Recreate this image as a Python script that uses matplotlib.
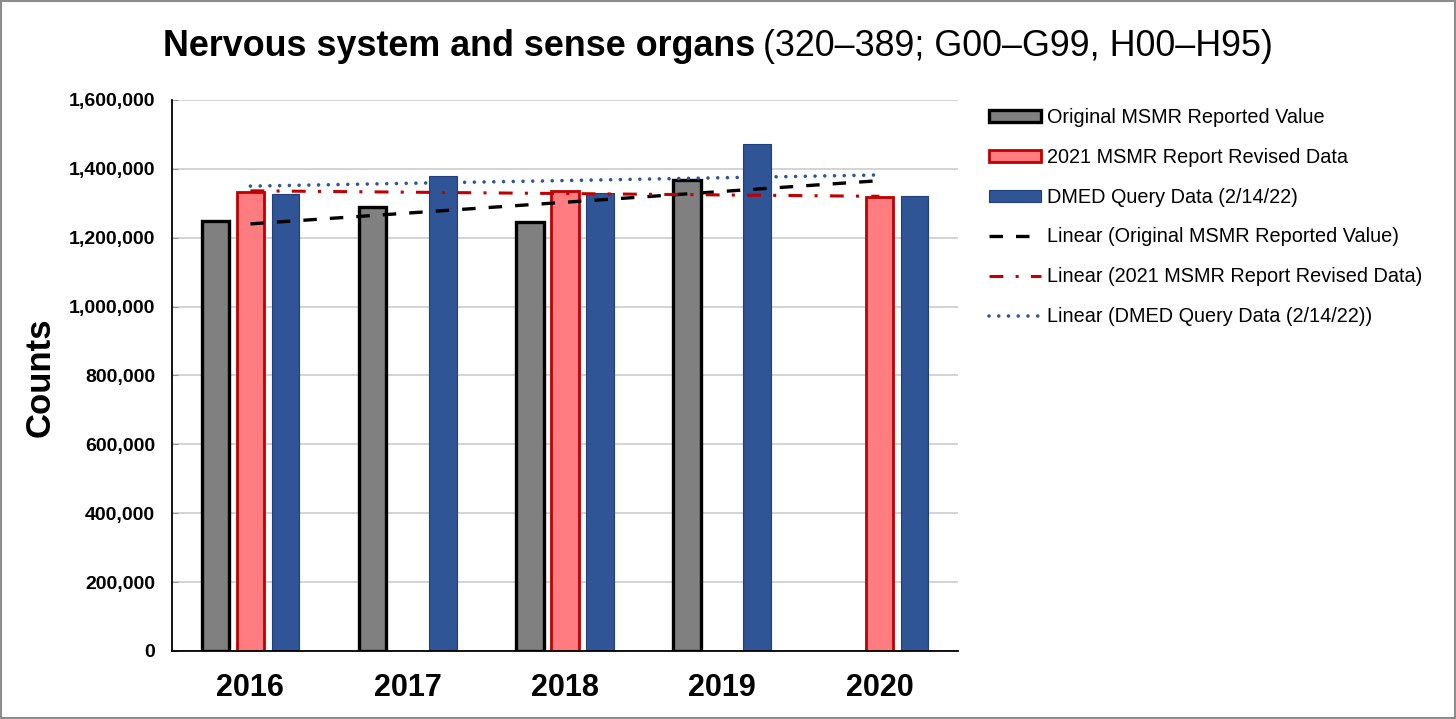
import numpy as np
import matplotlib.pyplot as plt
from matplotlib.patches import Rectangle
from matplotlib.lines import Line2D

plt.rcParams['font.family'] = ['Liberation Sans', 'DejaVu Sans']
plt.rcParams['lines.scale_dashes'] = False

years = ['2016', '2017', '2018', '2019', '2020']
original = [1248000, 1288000, 1245000, 1367000, np.nan]
revised = [1333000, np.nan, 1334000, np.nan, 1317000]
dmed = [1328000, 1378000, 1330000, 1471000, 1322000]

names = ['Original MSMR Reported Value',
         '2021 MSMR Report Revised Data',
         'DMED Query Data (2/14/22)']

fig = plt.figure(figsize=(14.56, 7.19), dpi=100)
ax = fig.add_axes([0.118, 0.0946, 0.540, 0.7665])

x = np.arange(len(years))
w = 0.175
off = 0.223

ax.bar(x - off, original, w, color='#808080', edgecolor='black', linewidth=2.4, zorder=3)
ax.bar(x, revised, w, color='#FF7C80', edgecolor='#C00000', linewidth=2.0, zorder=3)
ax.bar(x + off, dmed, w, color='#2F5597', edgecolor='#1F3F80', linewidth=0.8, zorder=3)

# linear trendlines, fitted on the points that exist, drawn across all years
styles = [
    dict(color='black', lw=2.4, dashes=(9.7, 9.4), dash_capstyle='butt'),
    dict(color='#C00000', lw=2.2, dashes=(10, 8.8, 2.2, 8.8), dash_capstyle='butt'),
    dict(color='#2F5597', lw=2.6, dashes=(0.01, 7.0), dash_capstyle='round'),
]
for vals, st in zip([original, revised, dmed], styles):
    v = np.array(vals, dtype=float)
    ok = ~np.isnan(v)
    k, b = np.polyfit(x[ok], v[ok], 1)
    xx = np.array([x[0], x[-1]])
    ax.plot(xx, k * xx + b, zorder=4, **st)

ax.set_xlim(-0.5, 4.5)
ax.set_ylim(0, 1600000)
ax.set_yticks(np.arange(0, 1600001, 200000))
ax.set_yticklabels([f'{int(t):,}' for t in ax.get_yticks()], fontsize=14, fontweight='bold')
ax.set_xticks(x)
ax.set_xticklabels(years, fontsize=22, fontweight='bold')
ax.tick_params(axis='x', length=0, pad=16)
ax.tick_params(axis='y', length=4, direction='in', color='#999999', pad=12)
ax.grid(axis='y', color='#d0d0d0', lw=1.3, zorder=0)
for s in ['top', 'right']:
    ax.spines[s].set_visible(False)
for s in ['left', 'bottom']:
    ax.spines[s].set_linewidth(1.3)
    ax.spines[s].set_zorder(5)
fig.text(40 / 1456, 1 - 377 / 719, 'Counts', fontsize=25, fontweight='bold',
         rotation=90, ha='center', va='center')

# title: bold part + regular part
t1 = fig.text(0.112, 0.936, 'Nervous system and sense organs', fontsize=25.8,
              fontweight='bold', va='center', ha='left')
fig.canvas.draw()
bb = t1.get_window_extent()
fig.text(bb.x1 / fig.bbox.width + 0.005, 0.936, '(320–389; G00–G99, H00–H95)',
         fontsize=25.8, va='center', ha='left')

handles = [
    Rectangle((0, 0), 1, 1, facecolor='#808080', edgecolor='black', lw=2.4),
    Rectangle((0, 0), 1, 1, facecolor='#FF7C80', edgecolor='#C00000', lw=2.0),
    Rectangle((0, 0), 1, 1, facecolor='#2F5597', edgecolor='#1F3F80', lw=0.8),
]
for st in styles:
    handles.append(Line2D([], [], **st))
labels = names + ['Linear (' + n + ')' for n in names]
fig.legend(handles, labels, loc='upper left', bbox_to_anchor=(0.674, 0.861),
           frameon=False, fontsize=14.3, handlelength=2.6, handleheight=0.55,
           handletextpad=0.3, labelspacing=1.05, borderaxespad=0)

fig.add_artist(Rectangle((0.001, 0.002), 0.998, 0.996, transform=fig.transFigure,
                         fill=False, edgecolor='#8c8c8c', lw=1.5))

fig.savefig('out.png', dpi=100)
